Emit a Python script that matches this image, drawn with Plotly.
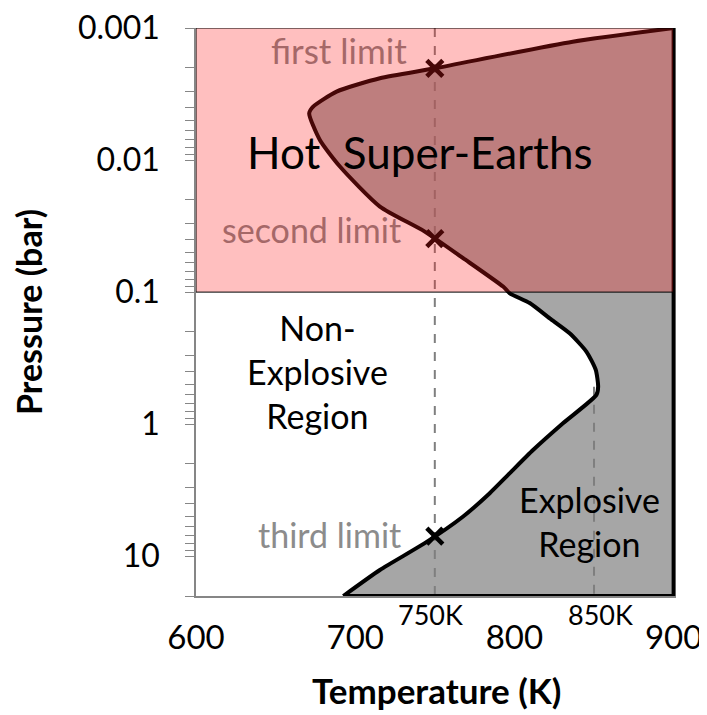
import numpy as np
import plotly.graph_objects as go

# Explosion-limit curve (temperature K, pressure bar)
temp_limit = [900, 836.6, 750, 715.5, 688.3, 673.6, 671.1, 677.8, 690.4, 715.5,
              743.7, 767.8, 792.9, 797.1, 809.6, 822.2, 834.7, 845.2, 851.1, 852.6,
              851.5, 830.5, 811.7, 797.1, 784.5, 767.8, 743.7, 715.5, 692.5]
pres_limit = [0.001, 0.00127, 0.00202, 0.0024, 0.00303, 0.00394, 0.00443, 0.00705, 0.0112, 0.0225,
              0.0348, 0.0553, 0.0908, 0.102, 0.121, 0.158, 0.205, 0.282, 0.388, 0.519,
              0.600, 0.984, 1.57, 2.35, 3.33, 5.0, 7.96, 12.7, 20]

# Marked limits at 750 K
limit_temp = [750, 750, 750]
limit_pres = [0.00202, 0.0394, 7.05]
limit_names = ["first limit", "second limit", "third limit"]

# Reference temperatures (dashed lines)
ref_temps = [750, 850]
ref_labels = ["750K", "850K"]
ref_top = [0.001, 0.52]

# Hot super-earth pressure band
band_p = [0.001, 0.1]

x_ticks = [600, 700, 800, 900]
y_ticks = [0.001, 0.01, 0.1, 1, 10]
y_ticktext = ["0.001", "0.01", "0.1", "1", "10"]
p_bottom = 20
t_max = 900

FONT = "Lato, 'Open Sans', sans-serif"

fig = go.Figure()

# Explosive region (gray fill)
fig.add_trace(go.Scatter(
    x=temp_limit + [t_max, t_max], y=pres_limit + [p_bottom, pres_limit[0]],
    mode="lines", fill="toself", fillcolor="#a6a6a6",
    line=dict(color="rgba(0,0,0,0)", width=0), hoverinfo="skip", showlegend=False))

# Dashed reference lines
for t, top in zip(ref_temps, ref_top):
    fig.add_trace(go.Scatter(
        x=[t, t], y=[top, p_bottom], mode="lines",
        line=dict(color="#7f7f7f", width=2, dash="dash"),
        hoverinfo="skip", showlegend=False))

# Explosion-limit curve (smooth)
fig.add_trace(go.Scatter(
    x=temp_limit, y=pres_limit, mode="lines",
    line=dict(color="black", width=4, shape="spline", smoothing=0.6),
    hoverinfo="skip", showlegend=False))

# Region border along bottom and right edge
fig.add_trace(go.Scatter(
    x=[temp_limit[-1], t_max, t_max], y=[p_bottom, p_bottom, pres_limit[0]], mode="lines",
    line=dict(color="black", width=4), hoverinfo="skip", showlegend=False))

# Limit markers
fig.add_trace(go.Scatter(
    x=limit_temp, y=limit_pres, mode="markers",
    marker=dict(symbol="x-thin", size=16, line=dict(color="black", width=4.5)),
    hoverinfo="skip", showlegend=False))

# Pink band drawn over everything (semi-transparent)
fig.add_shape(type="rect", xref="x", yref="y", x0=600, x1=t_max, y0=band_p[0], y1=band_p[1],
              fillcolor="rgba(255,26,26,0.28)", line=dict(color="black", width=1), layer="above")

ann = []
label_colors = ["#a56868", "#a56868", "#8c8c8c"]
label_x = [734, 730, 730]
label_y = [0.00147, 0.0333, 6.89]
label_size = [35, 34, 34]
for name, lx, ly, c, s in zip(limit_names, label_x, label_y, label_colors, label_size):
    ann.append(dict(x=lx, y=np.log10(ly), xref="x", yref="y", text=name, showarrow=False,
                    xanchor="right", yanchor="middle", font=dict(family=FONT, size=s, color=c)))

ann.append(dict(x=741, y=np.log10(0.0087), xref="x", yref="y", text="Hot  Super-Earths",
                showarrow=False, xanchor="center", yanchor="middle",
                font=dict(family=FONT, size=44, color="black")))
ann.append(dict(x=676.5, y=np.log10(0.40), xref="x", yref="y", text="Non-<br>Explosive<br>Region",
                showarrow=False, xanchor="center", yanchor="middle",
                font=dict(family=FONT, size=34, color="black")))
ann.append(dict(x=847, y=np.log10(5.5), xref="x", yref="y", text="Explosive<br>Region",
                showarrow=False, xanchor="center", yanchor="middle",
                font=dict(family=FONT, size=34, color="black")))
for t, lab in zip([747, 854], ref_labels):
    ann.append(dict(x=t, y=-0.033, xref="x", yref="paper", text=lab, showarrow=False,
                    xanchor="center", yanchor="middle",
                    font=dict(family=FONT, size=27, color="black")))

# Axis titles
ann.append(dict(x=0.5, y=-0.166, xref="paper", yref="paper", text="<b>Temperature (K)</b>",
                showarrow=False, xanchor="center", yanchor="middle",
                font=dict(family=FONT, size=35, color="black")))
ann.append(dict(x=-0.35, y=0.5, xref="paper", yref="paper", text="<b>Pressure (bar)</b>",
                showarrow=False, xanchor="center", yanchor="middle", textangle=-90,
                font=dict(family=FONT, size=34, color="black")))

# The page body adds an 8 px offset, so the figure is sized to fill the window from there
fig.update_layout(
    width=699, height=707,
    margin=dict(l=188, r=31, t=20, b=119),
    plot_bgcolor="white", paper_bgcolor="white",
    annotations=ann,
    showlegend=False,
    xaxis=dict(range=[600, 901.5], tickvals=x_ticks, showgrid=False, zeroline=False,
               automargin=False, ticklabeloverflow="allow",
               showline=True, linecolor="#868686", linewidth=1.5,
               ticks="outside", ticklen=12, tickcolor="rgba(0,0,0,0)",
               tickfont=dict(family=FONT, size=33, color="black")),
    yaxis=dict(type="log", range=[np.log10(p_bottom), -3], tickvals=y_ticks, ticktext=y_ticktext,
               automargin=False, ticklabeloverflow="allow",
               showgrid=False, zeroline=False, showline=True, linecolor="#868686", linewidth=1.5,
               ticks="outside", ticklen=9, tickcolor="#868686",
               minor=dict(ticks="outside", ticklen=9, tickcolor="#868686", dtick="D1", showgrid=False),
               ticklabelstandoff=19,
               tickfont=dict(family=FONT, size=32, color="black")),
)

fig.write_html("out.html")
